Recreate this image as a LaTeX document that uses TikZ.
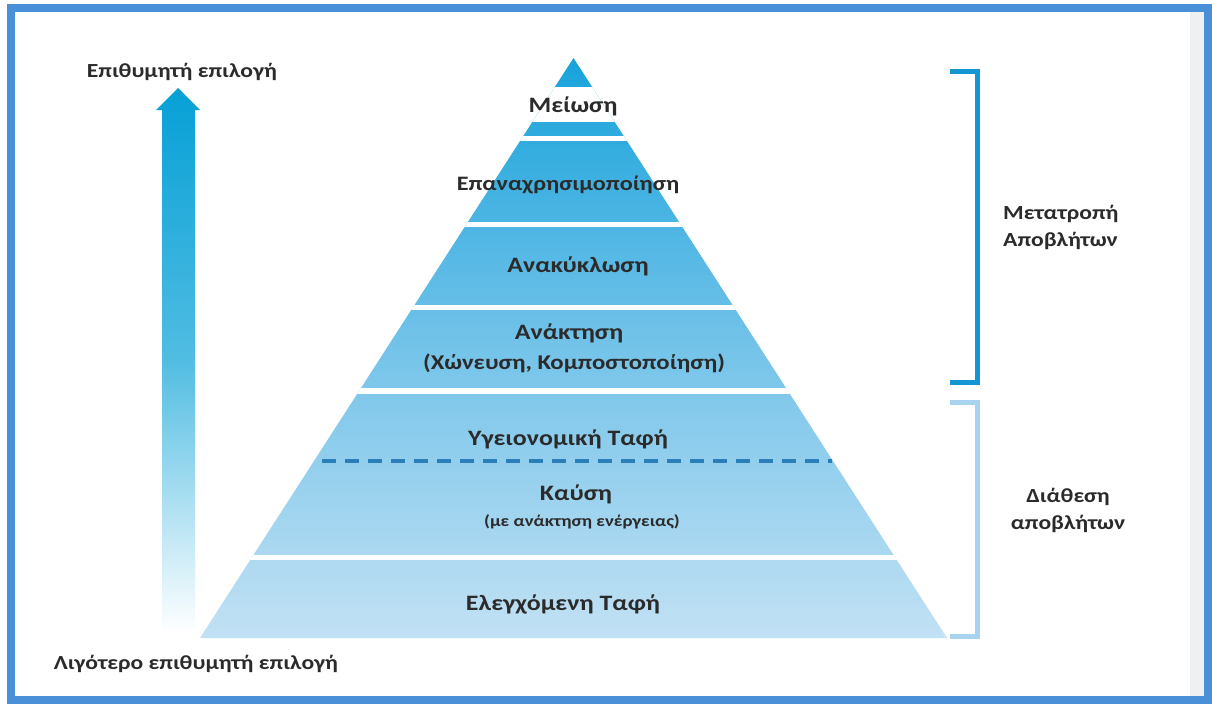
\documentclass[tikz,border=0pt]{standalone}
\usepackage{fontspec}
\setmainfont{Carlito}
\newfontfamily\wf[FakeStretch=1.18]{Carlito}
\usetikzlibrary{calc}
\definecolor{frameblue}{HTML}{4A90D9}
\definecolor{pyrtop}{HTML}{17A3DB}
\definecolor{pyrmid}{HTML}{74C3E9}
\definecolor{pyrbot}{HTML}{C2E1F4}
\definecolor{arrowtop}{HTML}{06A0D6}
\definecolor{brackA}{HTML}{1496D2}
\definecolor{brackB}{HTML}{A8D3EE}
\definecolor{dashc}{HTML}{2A7FB8}
\definecolor{txt}{HTML}{2B2B2B}
\definecolor{stripe}{HTML}{EEF0F2}
\tikzset{
  lbl/.style={font=\wf\bfseries\fontsize{22}{24}\selectfont, text=txt, inner sep=0pt},
  small/.style={font=\wf\bfseries\fontsize{16}{20}\selectfont, text=txt, inner sep=0pt},
  edge/.style={font=\wf\bfseries\fontsize{20}{24}\selectfont, text=txt, inner sep=0pt},
  side/.style={font=\wf\bfseries\fontsize{20}{27}\selectfont, text=txt, inner sep=0pt, align=left},
  brack/.style={line width=5pt, line cap=butt, line join=miter}
}
\begin{document}
\begin{tikzpicture}[x=1pt,y=-1pt]
\useasboundingbox (0,0) rectangle (1212,704);
% background and frame
\fill[white] (0,0) rectangle (1212,704);
\fill[stripe] (1190,12) rectangle (1208,699);
\draw[frameblue, line width=8pt] (11,8) rectangle (1208,700);
% pyramid
\coordinate (apex) at (573.5,58);
\coordinate (bl) at (200,638);
\coordinate (br) at (947,638);
\begin{scope}
  \clip (apex) -- (br) -- (bl) -- cycle;
  \shade[top color=pyrtop, bottom color=pyrbot, middle color=pyrmid] (190,58) rectangle (960,638);
  \fill[white] (190,87) rectangle (960,122);
  \fill[white] (190,136) rectangle (960,141);
  \fill[white] (190,222) rectangle (960,227);
  \fill[white] (190,305) rectangle (960,310);
  \fill[white] (190,388) rectangle (960,394);
  \fill[white] (190,555) rectangle (960,560);
\end{scope}
% dashed divider
\coordinate (dl) at (322,461);
\coordinate (dr) at (832,461);
\draw[dashc, line width=3.5pt, dash pattern=on 14pt off 9pt] (dl) -- (dr);
% pyramid labels
\node[lbl] (m1) at (573,106) {Μείωση};
\node[lbl, font=\wf\bfseries\fontsize{20.5}{24}\selectfont] (m2) at (568,185) {Επαναχρησιμοποίηση};
\node[lbl] (m3) at (578,266) {Ανακύκλωση};
\node[lbl] (m4) at (569,333) {Ανάκτηση};
\node[lbl, font=\wf\bfseries\fontsize{21}{24}\selectfont] (m4b) at (574,363) {(Χώνευση, Κομποστοποίηση)};
\node[lbl] (m5) at (568,439) {Υγειονομική Ταφή};
\node[lbl] (m6) at (576,494) {Καύση};
\node[small] (m6b) at (582,522) {(με ανάκτηση ενέργειας)};
\node[lbl] (m7) at (563,604) {Ελεγχόμενη Ταφή};
% left arrow
\shade[top color=arrowtop, bottom color=white, middle color=arrowtop!70!white]
  (162,632) -- (162,110) -- (156,110) -- (178,88) -- (200,110) -- (195,110) -- (195,632) -- cycle;
\node[edge] (top) at (182,72) {Επιθυμητή επιλογή};
\node[edge] (bot) at (196,664) {Λιγότερο επιθυμητή επιλογή};
% right brackets
\coordinate (b1a) at (950,71);
\coordinate (b1b) at (977,71);
\coordinate (b1c) at (977,382);
\coordinate (b1d) at (950,382);
\draw[brack, brackA] (b1a) -- (b1b) -- (b1c) -- (b1d);
\coordinate (b2a) at (950,402);
\coordinate (b2b) at (977,402);
\coordinate (b2c) at (977,636);
\coordinate (b2d) at (950,636);
\draw[brack, brackB] (b2a) -- (b2b) -- (b2c) -- (b2d);
\node[side, anchor=west] (r1) at (1003,227) {Μετατροπή\\Αποβλήτων};
\node[side, align=center] (r2) at (1068,510) {Διάθεση\\αποβλήτων};
\end{tikzpicture}
\end{document}
